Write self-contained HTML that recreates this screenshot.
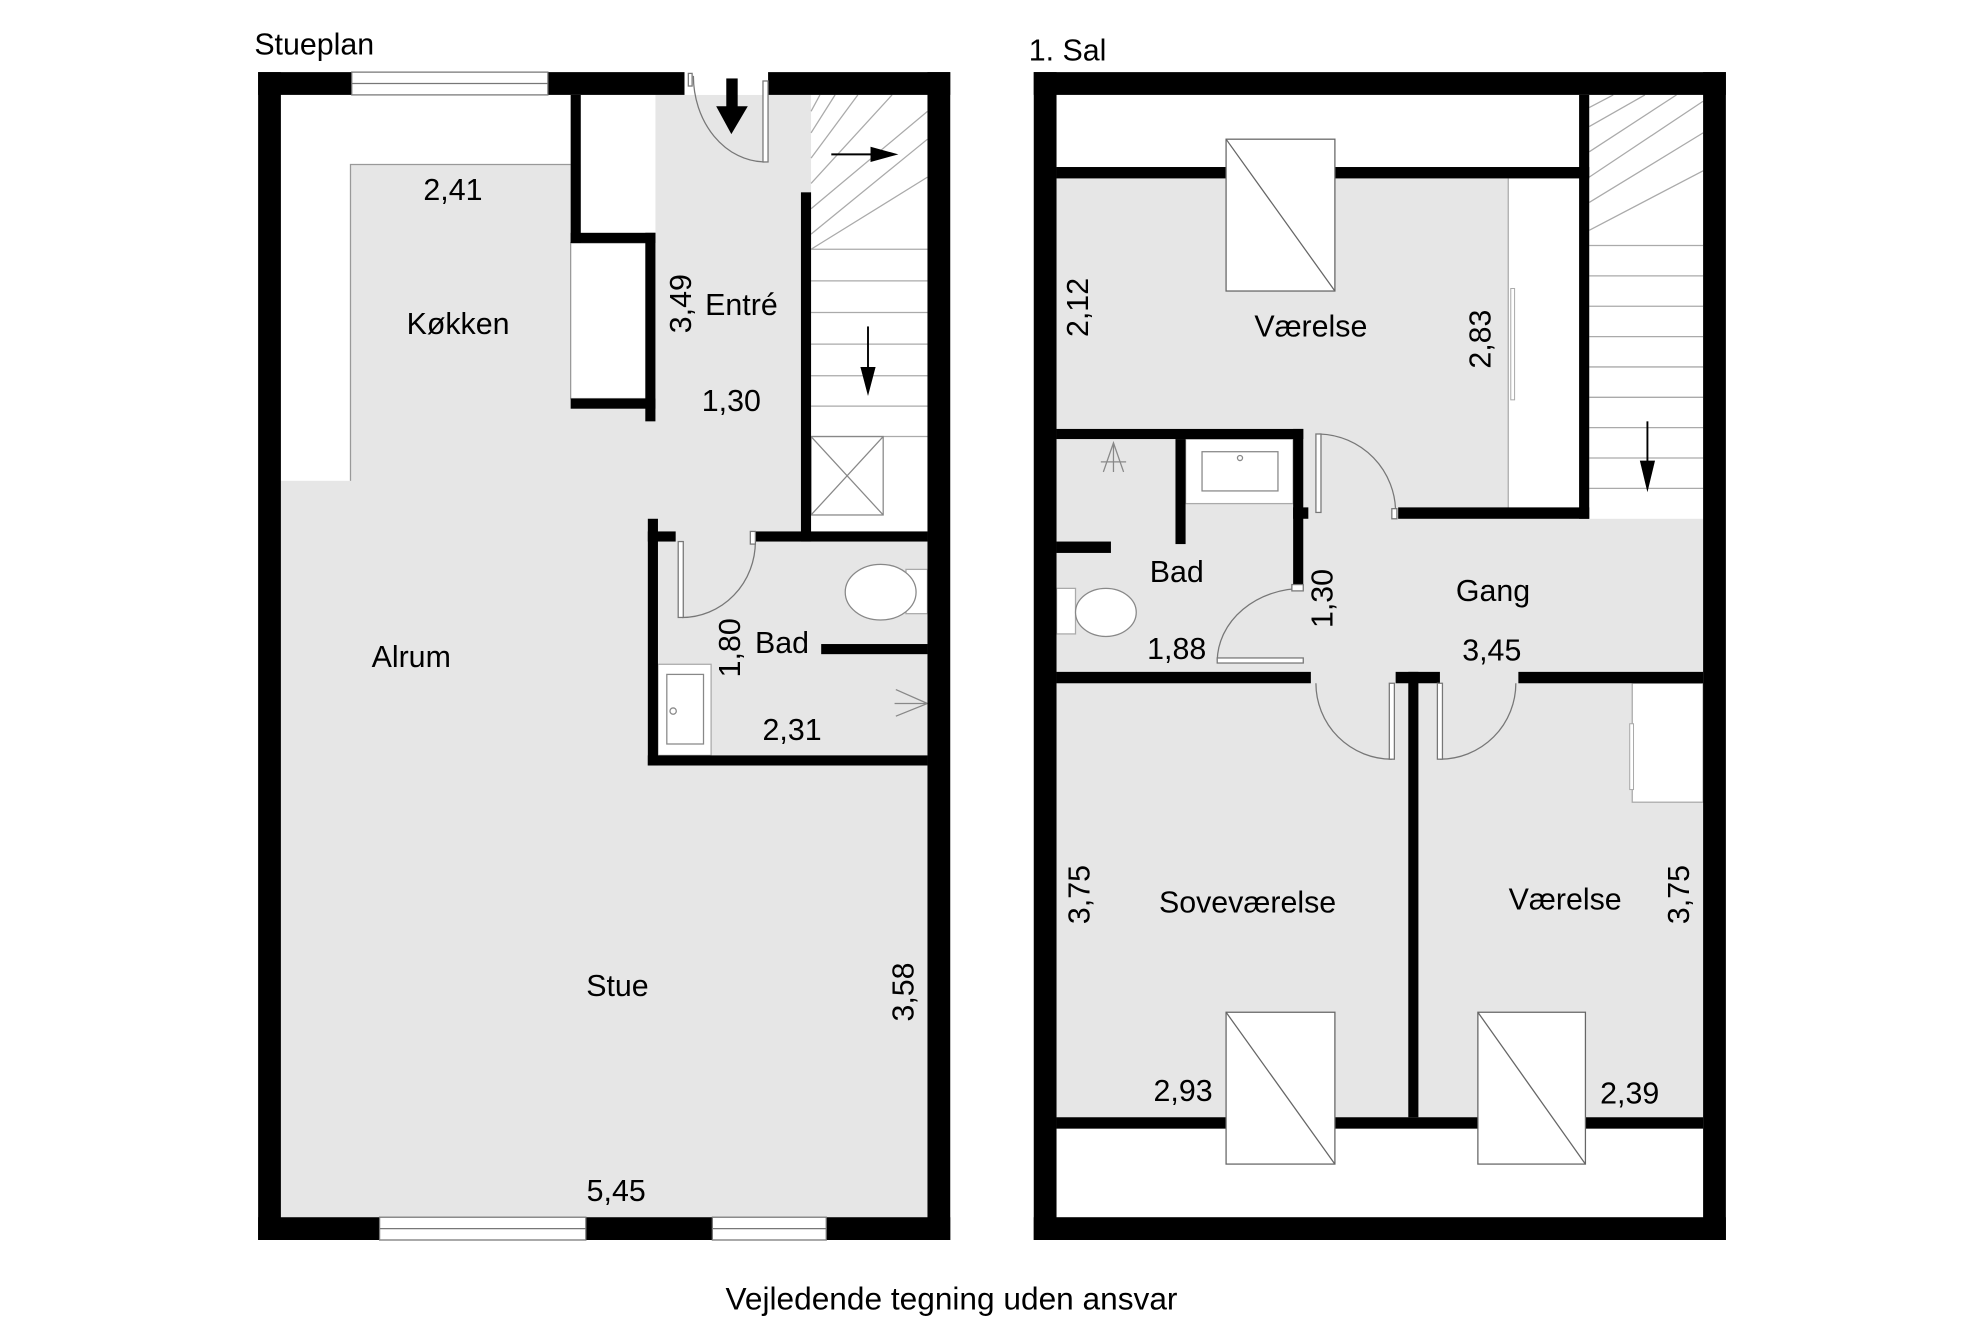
<!DOCTYPE html>
<html><head><meta charset="utf-8"><style>
html,body{margin:0;padding:0;background:#fff;}
svg{display:block;}
text{font-family:"Liberation Sans",Arial,sans-serif;font-size:24px;fill:#000;}
</style></head><body>
<svg width="1984" height="1323" viewBox="0 0 1568 1045.6" preserveAspectRatio="none" xmlns="http://www.w3.org/2000/svg">
<rect width="1568" height="1046" fill="#fff"/>
<!-- LEFT PLAN -->
<rect x="222" y="75" width="511" height="887" fill="#e6e6e6"/>
<rect x="222" y="75" width="237" height="55" fill="#fff"/>
<rect x="222" y="75" width="55" height="305" fill="#fff"/>
<path d="M277 380 V130 H451" fill="none" stroke="#999" stroke-width="1"/>
<rect x="459" y="75" width="59" height="109" fill="#fff"/>
<rect x="451" y="192" width="60" height="123" fill="#fff" stroke="#999" stroke-width="1"/>
<rect x="641" y="75" width="92" height="345" fill="#fff"/>
<g stroke="#aaa" stroke-width="1" fill="none">
<line x1="641" y1="197" x2="733" y2="197"/><line x1="641" y1="222" x2="733" y2="222"/>
<line x1="641" y1="247" x2="733" y2="247"/><line x1="641" y1="272" x2="733" y2="272"/>
<line x1="641" y1="297" x2="733" y2="297"/><line x1="641" y1="321" x2="733" y2="321"/>
<line x1="641" y1="345" x2="733" y2="345"/>
<line x1="641" y1="185" x2="733" y2="110"/><line x1="641" y1="165" x2="733" y2="88"/>
<line x1="641" y1="145" x2="705" y2="75"/><line x1="641" y1="125" x2="678" y2="75"/>
<line x1="641" y1="105" x2="660" y2="75"/><line x1="641" y1="88" x2="648" y2="75"/>
<line x1="641" y1="197" x2="733" y2="140"/>
<rect x="641" y="345" width="57" height="62" stroke="#888"/>
<line x1="641" y1="345" x2="698" y2="407" stroke="#888"/><line x1="698" y1="345" x2="641" y2="407" stroke="#888"/>
</g>
<line x1="686" y1="258" x2="686" y2="295" stroke="#000" stroke-width="1.5"/>
<polygon points="680,290 692,290 686,313" fill="#000"/>
<line x1="657" y1="122" x2="690" y2="122" stroke="#000" stroke-width="1.5"/>
<polygon points="688,116 688,128 710,122" fill="#000"/>
<rect x="520" y="525" width="42" height="72" fill="#fff" stroke="#aaa"/>
<rect x="527" y="533" width="29" height="55" fill="none" stroke="#888"/>
<circle cx="532" cy="562" r="2.5" fill="none" stroke="#888"/>
<rect x="716" y="450" width="17" height="35" fill="#fff" stroke="#aaa"/>
<ellipse cx="696" cy="468" rx="28" ry="22" fill="#fff" stroke="#888"/>
<path d="M708 545 L733 556 L708 566 M707 556 H733" fill="none" stroke="#888"/>
<g fill="#000">
<rect x="204" y="57" width="18" height="923"/>
<rect x="733" y="57" width="18" height="923"/>
<rect x="204" y="57" width="74" height="18"/>
<rect x="433" y="57" width="108" height="18"/>
<rect x="607" y="57" width="144" height="18"/>
<rect x="204" y="962" width="96" height="18"/>
<rect x="463" y="962" width="100" height="18"/>
<rect x="653" y="962" width="98" height="18"/>
<rect x="451" y="75" width="8" height="117"/>
<rect x="451" y="184" width="67" height="8"/>
<rect x="510" y="184" width="8" height="149"/>
<rect x="451" y="315" width="67" height="8"/>
<rect x="633" y="152" width="8" height="276"/>
<rect x="597" y="420" width="136" height="8"/>
<rect x="512" y="410" width="8" height="195"/>
<rect x="512" y="420" width="22" height="8"/>
<rect x="512" y="597" width="221" height="8"/>
<rect x="649" y="509" width="84" height="8"/>
</g>
<g fill="#fff" stroke="#777" stroke-width="1">
<rect x="278" y="57" width="155" height="18"/><line x1="278" y1="66" x2="433" y2="66"/>
<rect x="300" y="962" width="163" height="18"/><line x1="300" y1="971" x2="463" y2="971"/>
<rect x="563" y="962" width="90" height="18"/><line x1="563" y1="971" x2="653" y2="971"/>
</g>
<rect x="541" y="57" width="66" height="18" fill="#fff"/>
<path d="M548 60 A57 68 0 0 0 604 128" fill="none" stroke="#777"/>
<rect x="603" y="64" width="4" height="64" fill="#fff" stroke="#777"/>
<rect x="544" y="58" width="3" height="10" fill="#fff" stroke="#777"/>
<rect x="574" y="62" width="9" height="24" fill="#000"/>
<polygon points="566,84 591,84 578,106" fill="#000"/>
<path d="M539 488 A58 60 0 0 0 597 428" fill="none" stroke="#777"/>
<rect x="536" y="428" width="4" height="60" fill="#fff" stroke="#777"/>
<rect x="593" y="420" width="4" height="10" fill="#fff" stroke="#777"/>
<text x="201" y="43">Stueplan</text>
<text x="358" y="158" text-anchor="middle">2,41</text>
<text x="362" y="264" text-anchor="middle">Køkken</text>
<text transform="translate(546,240) rotate(-90)" text-anchor="middle">3,49</text>
<text x="586" y="249" text-anchor="middle">Entré</text>
<text x="578" y="325" text-anchor="middle">1,30</text>
<text x="325" y="527" text-anchor="middle">Alrum</text>
<text transform="translate(585,512) rotate(-90)" text-anchor="middle">1,80</text>
<text x="618" y="516" text-anchor="middle">Bad</text>
<text x="626" y="585" text-anchor="middle">2,31</text>
<text x="488" y="787" text-anchor="middle">Stue</text>
<text transform="translate(722,784) rotate(-90)" text-anchor="middle">3,58</text>
<text x="487" y="949" text-anchor="middle">5,45</text>

<!-- RIGHT PLAN -->
<rect x="835" y="75" width="511" height="887" fill="#e6e6e6"/>
<rect x="835" y="75" width="413" height="60" fill="#fff"/>
<rect x="835" y="885" width="511" height="77" fill="#fff"/>
<rect x="1192" y="141" width="56" height="263" fill="#fff"/>
<line x1="1192" y1="141" x2="1192" y2="404" stroke="#aaa"/>
<rect x="1194" y="228" width="3" height="88" fill="#fff" stroke="#aaa" stroke-width="0.8"/>
<rect x="1290" y="540" width="56" height="94" fill="#fff" stroke="#aaa"/>
<rect x="1288" y="572" width="3" height="52" fill="#fff" stroke="#aaa" stroke-width="0.8"/>
<rect x="1256" y="75" width="90" height="335" fill="#fff"/>
<g stroke="#aaa" stroke-width="1" fill="none">
<line x1="1256" y1="194" x2="1346" y2="194"/><line x1="1256" y1="218" x2="1346" y2="218"/>
<line x1="1256" y1="242" x2="1346" y2="242"/><line x1="1256" y1="266" x2="1346" y2="266"/>
<line x1="1256" y1="290" x2="1346" y2="290"/><line x1="1256" y1="314" x2="1346" y2="314"/>
<line x1="1256" y1="338" x2="1346" y2="338"/><line x1="1256" y1="362" x2="1346" y2="362"/>
<line x1="1256" y1="386" x2="1346" y2="386"/>
<line x1="1256" y1="182" x2="1346" y2="135"/><line x1="1256" y1="160" x2="1346" y2="105"/>
<line x1="1256" y1="140" x2="1346" y2="80"/><line x1="1256" y1="120" x2="1325" y2="75"/>
<line x1="1256" y1="100" x2="1300" y2="75"/><line x1="1256" y1="85" x2="1275" y2="75"/>
</g>
<line x1="1302" y1="333" x2="1302" y2="368" stroke="#000" stroke-width="1.5"/>
<polygon points="1296,364 1308,364 1302,389" fill="#000"/>
<rect x="937" y="347" width="85" height="51" fill="#fff" stroke="#aaa"/>
<rect x="950" y="357" width="60" height="31" fill="#fff" stroke="#888"/>
<circle cx="980" cy="362" r="2" fill="none" stroke="#888"/>
<rect x="835" y="465" width="15" height="36" fill="#fff" stroke="#aaa"/>
<ellipse cx="874" cy="484" rx="24" ry="19" fill="#fff" stroke="#888"/>
<path d="M872 373 L880 350 L888 373 M880 350 V373 M870 365 H890" fill="none" stroke="#888"/>
<g fill="#000">
<rect x="817" y="57" width="18" height="923"/>
<rect x="1346" y="57" width="18" height="923"/>
<rect x="817" y="57" width="547" height="18"/>
<rect x="817" y="962" width="547" height="18"/>
<rect x="835" y="132" width="421" height="9"/>
<rect x="1248" y="75" width="8" height="335"/>
<rect x="1105" y="401" width="151" height="9"/>
<rect x="835" y="339" width="195" height="8"/>
<rect x="1022" y="339" width="8" height="124"/>
<rect x="1022" y="401" width="12" height="9"/>
<rect x="929" y="347" width="8" height="83"/>
<rect x="835" y="428" width="43" height="9"/>
<rect x="835" y="531" width="201" height="9"/>
<rect x="1103" y="531" width="35" height="9"/>
<rect x="1200" y="531" width="146" height="9"/>
<rect x="1113" y="531" width="8" height="352"/>
<rect x="835" y="883" width="511" height="9"/>
</g>
<g fill="#fff" stroke="#666" stroke-width="1">
<rect x="969" y="110" width="86" height="120"/><line x1="969" y1="110" x2="1055" y2="230"/>
<rect x="969" y="800" width="86" height="120"/><line x1="969" y1="800" x2="1055" y2="920"/>
<rect x="1168" y="800" width="85" height="120"/><line x1="1168" y1="800" x2="1253" y2="920"/>
</g>
<path d="M1043 343 A62 62 0 0 1 1103 405" fill="none" stroke="#777"/>
<rect x="1040" y="343" width="4" height="62" fill="#fff" stroke="#777"/>
<rect x="1100" y="402" width="4" height="8" fill="#fff" stroke="#777"/>
<path d="M1030 465 A68 58 0 0 0 962 522" fill="none" stroke="#777"/>
<rect x="962" y="520" width="68" height="4" fill="#fff" stroke="#777"/>
<rect x="1021" y="462" width="9" height="5" fill="#fff" stroke="#777"/>
<path d="M1040 540 A60 60 0 0 0 1100 600" fill="none" stroke="#777"/>
<rect x="1098" y="540" width="4" height="60" fill="#fff" stroke="#777"/>
<path d="M1198 540 A60 60 0 0 1 1138 600" fill="none" stroke="#777"/>
<rect x="1136" y="540" width="4" height="60" fill="#fff" stroke="#777"/>
<text x="813" y="48">1. Sal</text>
<text transform="translate(860,243) rotate(-90)" text-anchor="middle">2,12</text>
<text x="1036" y="266" text-anchor="middle">Værelse</text>
<text transform="translate(1178,268) rotate(-90)" text-anchor="middle">2,83</text>
<text x="930" y="460" text-anchor="middle">Bad</text>
<text x="1180" y="475" text-anchor="middle">Gang</text>
<text transform="translate(1053,473) rotate(-90)" text-anchor="middle">1,30</text>
<text x="930" y="521" text-anchor="middle">1,88</text>
<text x="1179" y="522" text-anchor="middle">3,45</text>
<text x="986" y="721" text-anchor="middle">Soveværelse</text>
<text x="1237" y="719" text-anchor="middle">Værelse</text>
<text transform="translate(861,707) rotate(-90)" text-anchor="middle">3,75</text>
<text transform="translate(1335,707) rotate(-90)" text-anchor="middle">3,75</text>
<text x="935" y="870" text-anchor="middle">2,93</text>
<text x="1288" y="872" text-anchor="middle">2,39</text>
<text x="752" y="1035" text-anchor="middle" style="font-size:25px">Vejledende tegning uden ansvar</text>
</svg>
</body></html>
